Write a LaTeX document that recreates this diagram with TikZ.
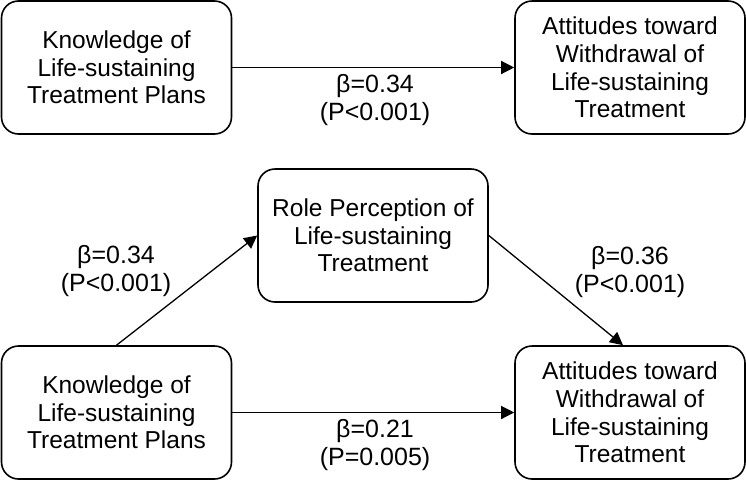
\documentclass[tikz,border=0pt]{standalone}
\usepackage{fontspec}
\setmainfont{Liberation Sans}
\usetikzlibrary{arrows.meta}
\begin{document}
\begin{tikzpicture}[x=1pt,y=-1pt,
  box/.style={draw,line width=1.6pt,rounded corners=17pt,minimum width=230pt,minimum height=133pt,align=center,inner sep=0pt,font=\fontsize{24.5}{27.6}\selectfont},
  lbl/.style={align=center,inner sep=0pt,font=\fontsize{25}{28}\selectfont},
  arr/.style={line width=1.3pt,-{Triangle[length=13pt,width=13pt]}}]
\useasboundingbox (0,0) rectangle (746,480);
\node[box] (tl) at (116.5,67.5) {Knowledge of\\Life-sustaining\\Treatment Plans};
\node[box] (tr) at (630,67.5) {Attitudes toward\\Withdrawal of\\Life-sustaining\\Treatment};
\node[box] (mid) at (373,235.5) {Role Perception of\\Life-sustaining\\Treatment};
\node[box] (bl) at (116.5,412.5) {Knowledge of\\Life-sustaining\\Treatment Plans};
\node[box] (br) at (630,412.5) {Attitudes toward\\Withdrawal of\\Life-sustaining\\Treatment};
\draw[arr] (tl.east) -- (tr.west);
\draw[arr] (bl.east) -- (br.west);
\draw[arr] (bl.north) -- (mid.west);
\draw[arr] (mid.east) -- ([xshift=-7pt]br.north);
\node[lbl] (l1) at (375,100) {β=0.34\\(P<0.001)};
\node[lbl] (l2) at (116,271) {β=0.34\\(P<0.001)};
\node[lbl] (l3) at (630,272) {β=0.36\\(P<0.001)};
\node[lbl] (l4) at (375,445) {β=0.21\\(P=0.005)};
\end{tikzpicture}
\end{document}
